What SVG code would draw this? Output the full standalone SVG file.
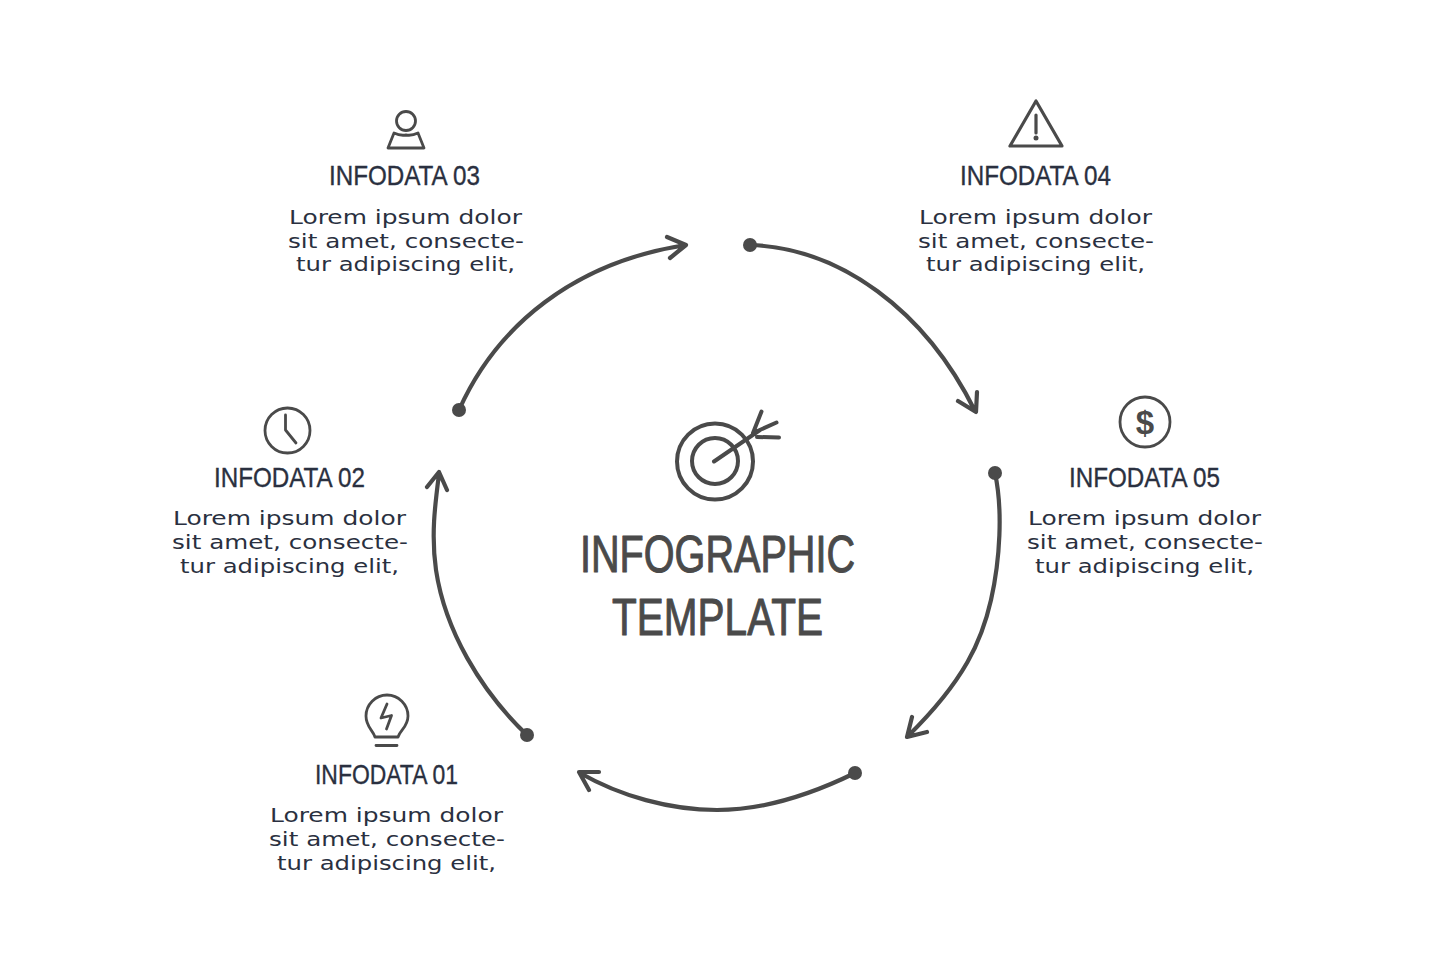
<svg xmlns="http://www.w3.org/2000/svg" width="1435" height="980" viewBox="0 0 1435 980">
<style>
.h{font-family:"Liberation Sans Narrow","Liberation Sans",sans-serif;font-size:28px;fill:#2a3040;stroke:#2a3040;stroke-width:.35}
.b{font-family:"DejaVu Sans",sans-serif;font-size:20px;fill:#2a3040}
.t{font-family:"Liberation Sans",sans-serif;font-size:51px;fill:#4a4a4a;stroke:#4a4a4a;stroke-width:1;stroke-linejoin:round}
.i{fill:none;stroke:#4a4a4a;stroke-width:2.800;stroke-linecap:round;stroke-linejoin:round}
.k{stroke-width:4}
.c{fill:none;stroke:#4a4a4a;stroke-width:4.200;stroke-linecap:round;stroke-linejoin:round}
.d{fill:#4a4a4a}
</style>
<rect width="1435" height="980" fill="#fff"/>
<g id="connectors">
<path class="c" d="M459 410C497 325 575 262 686 245M667 237L686 245L670 258"/><circle class="d" cx="459" cy="410" r="7"/>
<path class="c" d="M750 245C840 248 925 310 975 411M958 401L976 412L977 392"/><circle class="d" cx="750" cy="245" r="7"/>
<path class="c" d="M995 473C1003 510 1000 560 991 600C982 640 965 680 908 736M912 717L907 737L927 732"/><circle class="d" cx="995" cy="473" r="7"/>
<path class="c" d="M855 773C810 795 765 810 717 810C670 810 620 796 580 773M599 772L579 772L589 790"/><circle class="d" cx="855" cy="773" r="7"/>
<path class="c" d="M527 735C480 690 445 630 436 570C431 535 435 505 439 474M427 487L439 472L447 490"/><circle class="d" cx="527" cy="735" r="7"/>
</g>
<g id="center">
<circle class="i k" cx="715" cy="461.500" r="38"/>
<circle class="i k" cx="715" cy="461" r="23"/>
<path class="i k" d="M714 461.500L760 430M761.500 411.500L753 433M776.500 422.500L753 433M779 437.500L757 437"/>
<text class="t" x="580" y="572" textLength="275" lengthAdjust="spacingAndGlyphs">INFOGRAPHIC</text>
<text class="t" x="612" y="635" textLength="211" lengthAdjust="spacingAndGlyphs">TEMPLATE</text>
</g>
<g id="node-01">
<path class="i" d="M375 737L398 737C400 730 408 727 408 716A21 21 0 0 0 366 716C366 727 373 730 375 737ZM376 745.500L397 745.500M387 704L381 718L391.500 715.500L386.500 729"/>
<text class="h" x="315" y="784" textLength="143" lengthAdjust="spacingAndGlyphs">INFODATA 01</text>
<text class="b" x="270" y="822" textLength="233" lengthAdjust="spacingAndGlyphs">Lorem ipsum dolor</text>
<text class="b" x="269" y="846" textLength="236" lengthAdjust="spacingAndGlyphs">sit amet, consecte-</text>
<text class="b" x="277" y="870" textLength="219" lengthAdjust="spacingAndGlyphs">tur adipiscing elit,</text>
</g>
<g id="node-02">
<circle class="i" cx="287.500" cy="430.500" r="22.500"/>
<path class="i" d="M285.500 415L285.500 430L296 443"/>
<text class="h" x="214" y="487" textLength="151" lengthAdjust="spacingAndGlyphs">INFODATA 02</text>
<text class="b" x="173" y="525" textLength="233" lengthAdjust="spacingAndGlyphs">Lorem ipsum dolor</text>
<text class="b" x="172" y="549" textLength="236" lengthAdjust="spacingAndGlyphs">sit amet, consecte-</text>
<text class="b" x="180" y="573" textLength="219" lengthAdjust="spacingAndGlyphs">tur adipiscing elit,</text>
</g>
<g id="node-03">
<circle class="i" cx="406" cy="121" r="9.500"/>
<path class="i" d="M388 148L394 133Q400 136 406 135Q412 136 418 133L424 148Z"/>
<text class="h" x="329" y="185" textLength="151" lengthAdjust="spacingAndGlyphs">INFODATA 03</text>
<text class="b" x="289" y="224" textLength="233" lengthAdjust="spacingAndGlyphs">Lorem ipsum dolor</text>
<text class="b" x="288" y="247.500" textLength="236" lengthAdjust="spacingAndGlyphs">sit amet, consecte-</text>
<text class="b" x="296" y="271" textLength="219" lengthAdjust="spacingAndGlyphs">tur adipiscing elit,</text>
</g>
<g id="node-04">
<path class="i" style="stroke-width:3.200" d="M1036 101L1010 146L1062 146ZM1036 115L1036 133"/>
<circle class="d" cx="1036" cy="138" r="2.500"/>
<text class="h" x="960" y="185" textLength="151" lengthAdjust="spacingAndGlyphs">INFODATA 04</text>
<text class="b" x="919" y="224" textLength="233" lengthAdjust="spacingAndGlyphs">Lorem ipsum dolor</text>
<text class="b" x="918" y="247.500" textLength="236" lengthAdjust="spacingAndGlyphs">sit amet, consecte-</text>
<text class="b" x="926" y="271" textLength="219" lengthAdjust="spacingAndGlyphs">tur adipiscing elit,</text>
</g>
<g id="node-05">
<circle class="i" cx="1145" cy="422" r="25"/>
<text x="1145" y="434" text-anchor="middle" font-family="Liberation Sans,sans-serif" font-weight="bold" font-size="33" fill="#4a4a4a">$</text>
<text class="h" x="1069" y="487" textLength="151" lengthAdjust="spacingAndGlyphs">INFODATA 05</text>
<text class="b" x="1028" y="525" textLength="233" lengthAdjust="spacingAndGlyphs">Lorem ipsum dolor</text>
<text class="b" x="1027" y="549" textLength="236" lengthAdjust="spacingAndGlyphs">sit amet, consecte-</text>
<text class="b" x="1035" y="573" textLength="219" lengthAdjust="spacingAndGlyphs">tur adipiscing elit,</text>
</g>
</svg>
